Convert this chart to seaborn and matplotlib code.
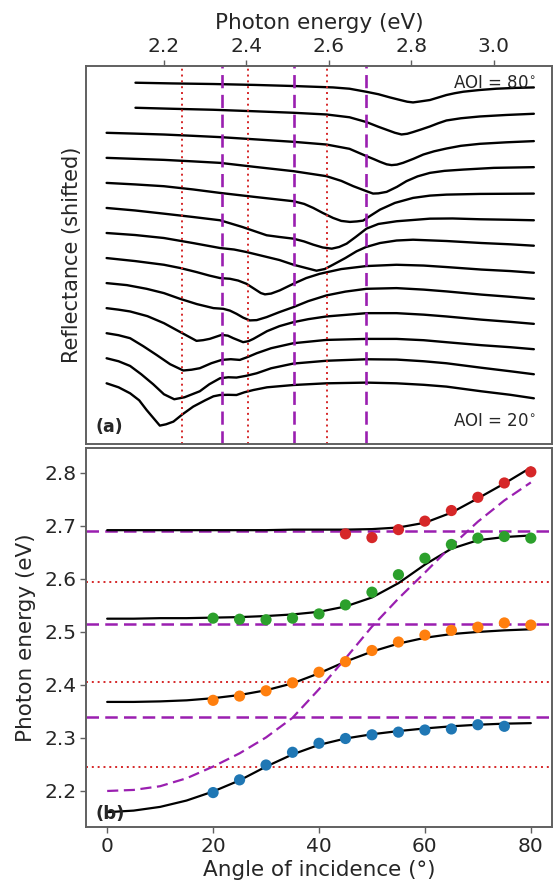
import numpy as np
import pandas as pd
import matplotlib
matplotlib.use("Agg")
import matplotlib.pyplot as plt
import seaborn as sns

# ---------------- panel (a): reflectance spectra (a.u., unshifted) ----------------
aoi_list = [20, 25, 30, 35, 40, 45, 50, 55, 60, 65, 70, 75, 80]

E20 = [2.061, 2.09, 2.118, 2.14, 2.158, 2.175, 2.19, 2.205, 2.223, 2.245, 2.271, 2.30, 2.32, 2.336, 2.355, 2.376, 2.395, 2.417, 2.45, 2.514, 2.594, 2.691, 2.764, 2.83, 2.885, 2.97, 3.04, 3.097]
R20 = [0.0, -0.04, -0.10, -0.17, -0.267, -0.35, -0.423, -0.41, -0.383, -0.31, -0.233, -0.17, -0.13, -0.117, -0.115, -0.117, -0.09, -0.067, -0.04, -0.017, 0.0, 0.007, 0.0, -0.015, -0.033, -0.08, -0.115, -0.15]
E25 = [2.061, 2.09, 2.118, 2.145, 2.174, 2.20, 2.225, 2.25, 2.287, 2.31, 2.336, 2.356, 2.376, 2.40, 2.425, 2.46, 2.514, 2.594, 2.691, 2.764, 2.83, 2.885, 2.97, 3.04, 3.097]
R25 = [0.0, -0.03, -0.077, -0.16, -0.26, -0.36, -0.41, -0.39, -0.33, -0.26, -0.20, -0.19, -0.193, -0.175, -0.15, -0.10, -0.053, -0.025, -0.01, -0.013, -0.03, -0.05, -0.095, -0.13, -0.16]
E30 = [2.061, 2.09, 2.118, 2.15, 2.182, 2.215, 2.247, 2.267, 2.287, 2.315, 2.34, 2.362, 2.384, 2.405, 2.425, 2.46, 2.514, 2.594, 2.691, 2.764, 2.83, 2.885, 2.97, 3.04, 3.097]
R30 = [0.0, -0.02, -0.05, -0.13, -0.217, -0.31, -0.373, -0.365, -0.35, -0.30, -0.267, -0.26, -0.267, -0.235, -0.20, -0.15, -0.10, -0.067, -0.057, -0.057, -0.07, -0.09, -0.12, -0.14, -0.16]
E35 = [2.061, 2.09, 2.118, 2.16, 2.2, 2.24, 2.279, 2.295, 2.311, 2.34, 2.355, 2.368, 2.392, 2.405, 2.417, 2.45, 2.48, 2.514, 2.55, 2.594, 2.691, 2.764, 2.83, 2.885, 2.97, 3.04, 3.097]
R35 = [0.0, -0.015, -0.033, -0.08, -0.15, -0.24, -0.327, -0.32, -0.307, -0.267, -0.275, -0.30, -0.34, -0.33, -0.307, -0.23, -0.18, -0.14, -0.11, -0.083, -0.05, -0.05, -0.065, -0.083, -0.115, -0.137, -0.157]
E40 = [2.061, 2.11, 2.158, 2.2, 2.239, 2.28, 2.32, 2.344, 2.36, 2.376, 2.392, 2.408, 2.425, 2.449, 2.48, 2.514, 2.55, 2.594, 2.64, 2.691, 2.764, 2.83, 2.885, 2.97, 3.04, 3.097]
R40 = [0.0, -0.02, -0.057, -0.10, -0.157, -0.21, -0.25, -0.257, -0.275, -0.307, -0.345, -0.373, -0.37, -0.34, -0.29, -0.24, -0.18, -0.123, -0.085, -0.057, -0.05, -0.065, -0.083, -0.115, -0.137, -0.157]
E45 = [2.061, 2.13, 2.2, 2.24, 2.279, 2.31, 2.336, 2.36, 2.38, 2.4, 2.42, 2.435, 2.445, 2.46, 2.481, 2.514, 2.545, 2.578, 2.63, 2.691, 2.764, 2.83, 2.885, 2.97, 3.04, 3.097]
R45 = [0.0, -0.03, -0.067, -0.10, -0.14, -0.175, -0.20, -0.207, -0.225, -0.257, -0.31, -0.35, -0.363, -0.355, -0.323, -0.257, -0.20, -0.157, -0.11, -0.08, -0.067, -0.075, -0.09, -0.115, -0.13, -0.147]
E50 = [2.061, 2.13, 2.2, 2.27, 2.336, 2.37, 2.4, 2.44, 2.48, 2.514, 2.54, 2.57, 2.59, 2.61, 2.64, 2.667, 2.69, 2.724, 2.764, 2.804, 2.885, 2.97, 3.04, 3.097]
R50 = [0.0, -0.02, -0.05, -0.10, -0.15, -0.165, -0.19, -0.23, -0.27, -0.317, -0.345, -0.377, -0.36, -0.317, -0.25, -0.183, -0.14, -0.10, -0.075, -0.067, -0.08, -0.10, -0.113, -0.127]
E55 = [2.061, 2.13, 2.2, 2.27, 2.336, 2.39, 2.449, 2.48, 2.514, 2.54, 2.562, 2.585, 2.607, 2.625, 2.643, 2.665, 2.691, 2.72, 2.764, 2.845, 2.9, 2.966, 3.04, 3.097]
R55 = [0.0, -0.025, -0.057, -0.09, -0.123, -0.19, -0.273, -0.29, -0.307, -0.335, -0.367, -0.395, -0.407, -0.39, -0.357, -0.29, -0.207, -0.16, -0.133, -0.107, -0.105, -0.113, -0.118, -0.123]
E60 = [2.061, 2.13, 2.2, 2.27, 2.336, 2.42, 2.514, 2.54, 2.562, 2.585, 2.61, 2.63, 2.651, 2.668, 2.683, 2.70, 2.724, 2.76, 2.804, 2.845, 2.885, 2.966, 3.097]
R60 = [0.0, -0.015, -0.033, -0.065, -0.10, -0.14, -0.183, -0.21, -0.25, -0.30, -0.35, -0.38, -0.39, -0.385, -0.377, -0.33, -0.267, -0.20, -0.15, -0.127, -0.117, -0.11, -0.107]
E65 = [2.061, 2.13, 2.2, 2.27, 2.336, 2.42, 2.514, 2.594, 2.63, 2.659, 2.691, 2.707, 2.72, 2.74, 2.765, 2.788, 2.815, 2.845, 2.88, 2.926, 3.0, 3.097]
R65 = [0.0, -0.01, -0.02, -0.035, -0.05, -0.09, -0.133, -0.183, -0.23, -0.283, -0.333, -0.357, -0.355, -0.34, -0.29, -0.233, -0.185, -0.15, -0.13, -0.117, -0.10, -0.093]
E70 = [2.061, 2.13, 2.2, 2.27, 2.336, 2.42, 2.514, 2.594, 2.65, 2.691, 2.71, 2.724, 2.74, 2.752, 2.765, 2.78, 2.805, 2.829, 2.855, 2.885, 2.92, 2.966, 3.03, 3.097]
R70 = [0.0, -0.008, -0.017, -0.03, -0.043, -0.065, -0.09, -0.117, -0.16, -0.233, -0.265, -0.29, -0.315, -0.323, -0.318, -0.30, -0.26, -0.217, -0.185, -0.157, -0.13, -0.11, -0.095, -0.083]
E75 = [2.131, 2.22, 2.32, 2.42, 2.514, 2.594, 2.65, 2.691, 2.72, 2.74, 2.76, 2.776, 2.79, 2.804, 2.825, 2.845, 2.865, 2.885, 2.92, 2.966, 3.03, 3.097]
R75 = [0.0, -0.01, -0.02, -0.035, -0.05, -0.067, -0.095, -0.143, -0.19, -0.22, -0.25, -0.267, -0.26, -0.243, -0.215, -0.187, -0.155, -0.127, -0.105, -0.087, -0.072, -0.06]
E80 = [2.131, 2.22, 2.32, 2.42, 2.514, 2.61, 2.65, 2.69, 2.72, 2.748, 2.775, 2.79, 2.804, 2.82, 2.845, 2.865, 2.885, 2.905, 2.926, 2.965, 3.006, 3.05, 3.097]
R80 = [0.0, -0.007, -0.013, -0.022, -0.033, -0.047, -0.06, -0.09, -0.115, -0.147, -0.175, -0.19, -0.197, -0.188, -0.173, -0.148, -0.123, -0.105, -0.09, -0.073, -0.06, -0.052, -0.047]

spec_E = [E20, E25, E30, E35, E40, E45, E50, E55, E60, E65, E70, E75, E80]
spec_R = [R20, R25, R30, R35, R40, R45, R50, R55, R60, R65, R70, R75, R80]
shift = 0.2505

# uncoupled modes
exciton_E = [2.245, 2.405, 2.595]      # red dotted
plasmon_E = [2.34, 2.515, 2.69]        # purple dashed

# ---------------- panel (b): dispersion ----------------
ang_b1 = [20, 25, 30, 35, 40, 45, 50, 55, 60, 65, 70, 75]
en_b1 = [2.197, 2.221, 2.249, 2.273, 2.290, 2.299, 2.306, 2.311, 2.315, 2.317, 2.325, 2.322]
ang_b2 = [20, 25, 30, 35, 40, 45, 50, 55, 60, 65, 70, 75, 80]
en_b2 = [2.371, 2.379, 2.389, 2.404, 2.424, 2.444, 2.465, 2.481, 2.494, 2.503, 2.509, 2.517, 2.513]
ang_b3 = [20, 25, 30, 35, 40, 45, 50, 55, 60, 65, 70, 75, 80]
en_b3 = [2.526, 2.524, 2.523, 2.526, 2.534, 2.551, 2.575, 2.608, 2.639, 2.665, 2.677, 2.680, 2.677]
ang_b4 = [45, 50, 55, 60, 65, 70, 75, 80]
en_b4 = [2.685, 2.678, 2.693, 2.709, 2.729, 2.754, 2.781, 2.802]

fit_ang = [0, 5, 10, 15, 20, 25, 30, 35, 40, 45, 50, 55, 60, 65, 70, 75, 80]
fit_b1 = [2.160, 2.163, 2.170, 2.182, 2.199, 2.220, 2.246, 2.269, 2.287, 2.299, 2.307, 2.313, 2.318, 2.322, 2.325, 2.327, 2.328]
fit_b2 = [2.368, 2.368, 2.369, 2.371, 2.375, 2.381, 2.390, 2.403, 2.422, 2.444, 2.463, 2.478, 2.489, 2.496, 2.500, 2.503, 2.505]
fit_b3 = [2.525, 2.525, 2.526, 2.526, 2.527, 2.528, 2.530, 2.533, 2.538, 2.548, 2.565, 2.592, 2.627, 2.657, 2.673, 2.679, 2.682]
fit_b4 = [2.692, 2.692, 2.692, 2.692, 2.692, 2.692, 2.692, 2.693, 2.693, 2.693, 2.694, 2.697, 2.706, 2.725, 2.752, 2.780, 2.810]
cavity = [2.200, 2.202, 2.209, 2.224, 2.246, 2.271, 2.301, 2.338, 2.392, 2.450, 2.510, 2.563, 2.612, 2.662, 2.708, 2.748, 2.782]

# ---------------- styling ----------------
sns.set_style("ticks")
plt.rcParams['font.family'] = ['DejaVu Sans']
purple = '#9a1fb0'
red = '#d62728'
spine_col = '#606060'
pal = ['#1f77b4', '#ff7f0e', '#2ca02c', '#d62728']

fig = plt.figure(figsize=(5.53, 8.85), dpi=100)
axa = fig.add_axes([0.1555, 0.4983, 0.8427, 0.4271])
axb = fig.add_axes([0.1555, 0.0655, 0.8427, 0.4283])

# ---- panel a ----
rows = []
for i, (a, e, r) in enumerate(zip(aoi_list, spec_E, spec_R)):
    for ee, rr in zip(e, r):
        rows.append({'E': ee, 'R': rr + i * shift, 'aoi': a})
dfa = pd.DataFrame(rows)
sns.lineplot(data=dfa, x='E', y='R', units='aoi', estimator=None, sort=False,
             color='black', lw=1.7, ax=axa, legend=False)
for e in exciton_E:
    axa.axvline(e, color=red, ls=(0, (1, 2)), lw=1.4)
for e in plasmon_E:
    axa.axvline(e, color=purple, ls=(0, (5, 2.5)), lw=1.9)

axa.set_xlim(2.011, 3.141)
axa.set_ylim(-0.607, 3.173)
axa.xaxis.tick_top()
axa.xaxis.set_label_position('top')
axa.set_xticks([2.2, 2.4, 2.6, 2.8, 3.0])
axa.set_yticks([])
axa.set_xlabel('Photon energy (eV)', fontsize=15.5, labelpad=6)
axa.set_ylabel('Reflectance (shifted)', fontsize=15, labelpad=3)
axa.tick_params(axis='x', labelsize=14.5, length=4, width=1, color=spine_col, pad=3)
axa.text(0.965, 0.955, r'AOI = 80$^{\circ}$', transform=axa.transAxes,
         ha='right', va='center', fontsize=12)
axa.text(0.965, 0.06, r'AOI = 20$^{\circ}$', transform=axa.transAxes,
         ha='right', va='center', fontsize=12)
axa.text(0.02, 0.045, '(a)', transform=axa.transAxes, ha='left', va='center',
         fontsize=12.5, fontweight='bold')

# ---- panel b ----
for e in exciton_E:
    axb.axhline(e, color=red, ls=(0, (1, 2)), lw=1.4)
for e in plasmon_E:
    axb.axhline(e, color=purple, ls=(0, (5, 2.5)), lw=1.8)

fit_rows = []
for name, vals in zip(['b1', 'b2', 'b3', 'b4'], [fit_b1, fit_b2, fit_b3, fit_b4]):
    for a, v in zip(fit_ang, vals):
        fit_rows.append({'ang': a, 'E': v, 'branch': name})
dff = pd.DataFrame(fit_rows)
sns.lineplot(data=dff, x='ang', y='E', units='branch', estimator=None, sort=False,
             color='black', lw=1.6, ax=axb, legend=False)
dfc = pd.DataFrame({'ang': fit_ang, 'E': cavity})
sns.lineplot(data=dfc, x='ang', y='E', color=purple, ls=(0, (5, 2.5)), lw=1.6,
             ax=axb, legend=False)

pt_rows = []
for name, aa, ee in zip(['b1', 'b2', 'b3', 'b4'], [ang_b1, ang_b2, ang_b3, ang_b4],
                        [en_b1, en_b2, en_b3, en_b4]):
    for a, v in zip(aa, ee):
        pt_rows.append({'ang': a, 'E': v, 'branch': name})
dfp = pd.DataFrame(pt_rows)
sns.scatterplot(data=dfp, x='ang', y='E', hue='branch', palette=pal, s=65,
                edgecolor='none', ax=axb, legend=False, zorder=3)

axb.set_xlim(-4, 84)
axb.set_ylim(2.132, 2.847)
axb.set_xticks([0, 20, 40, 60, 80])
axb.set_yticks([2.2, 2.3, 2.4, 2.5, 2.6, 2.7, 2.8])
axb.set_xlabel('Angle of incidence (°)', fontsize=15.5, labelpad=3)
axb.set_ylabel('Photon energy (eV)', fontsize=15.5, labelpad=6)
axb.tick_params(labelsize=14.5, length=4, width=1, color=spine_col, pad=3)
axb.text(0.02, 0.035, '(b)', transform=axb.transAxes, ha='left', va='center',
         fontsize=13, fontweight='bold')

for ax in (axa, axb):
    for sp in ax.spines.values():
        sp.set_visible(True)
        sp.set_color(spine_col)
        sp.set_linewidth(1.4)

fig.savefig('out.png', dpi=100)
